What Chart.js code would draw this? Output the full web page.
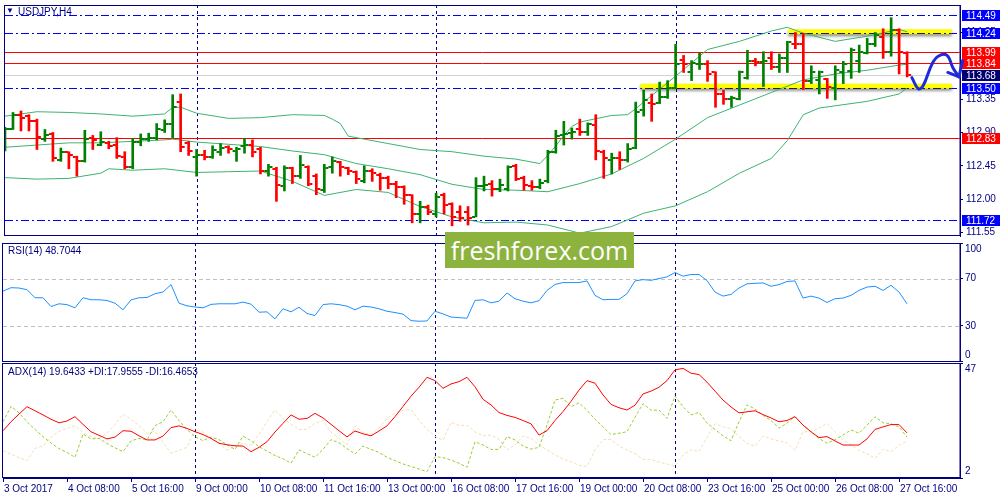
<!DOCTYPE html>
<html>
<head>
<meta charset="utf-8">
<title>USDJPY,H4</title>
<script src="https://cdn.jsdelivr.net/npm/chart.js@4.4.1/dist/chart.umd.min.js"></script>
<style>
  html, body { margin: 0; padding: 0; background: #fff; }
  body { position: relative; width: 1000px; height: 500px; overflow: hidden; font-family: 'Liberation Sans', Arial, sans-serif; }
  canvas { position: absolute; left: 0; }
  #priceCanvas { top: 0; }
  #rsiCanvas { top: 241px; }
  #adxCanvas { top: 362px; }
  .caption { position: absolute; font-size: 10px; color: #000080; white-space: nowrap; line-height: 12px; }
  #titleMark { left: 6px; top: 5px; font-size: 8px; }
  #title { left: 18px; top: 6px; }
  #rsiCaption { left: 8px; top: 245px; }
  #adxCaption { left: 8px; top: 366px; }
  #watermark { position: absolute; left: 445px; top: 232px; width: 189px; height: 36px; background: #8db33f; color: #fff;
               font-family: 'Open Sans', sans-serif; font-size: 25px; line-height: 36px; text-align: center; }
</style>
</head>
<body>
<canvas id="priceCanvas" width="1000" height="241"></canvas>
<canvas id="rsiCanvas" width="1000" height="121"></canvas>
<canvas id="adxCanvas" width="1000" height="138"></canvas>
<div class="caption" id="titleMark">▼</div>
<div class="caption" id="title">USDJPY,H4</div>
<div class="caption" id="rsiCaption">RSI(14) 48.7044</div>
<div class="caption" id="adxCaption">ADX(14) 19.6433 +DI:17.9555 -DI:16.4653</div>
<div id="watermark">freshforex.com</div>
<script>
// time axis: one label every 8 H4 bars
const timeLabels = ['3 Oct 2017', '4 Oct 08:00', '5 Oct 16:00', '9 Oct 00:00', '10 Oct 08:00', '11 Oct 16:00',
  '13 Oct 00:00', '16 Oct 08:00', '17 Oct 16:00', '19 Oct 00:00', '20 Oct 08:00', '23 Oct 16:00',
  '25 Oct 00:00', '26 Oct 08:00', '27 Oct 16:00'];
const barsPerLabel = 8;

// OHLC, one value per H4 bar
const opens = [112.75, 112.95, 113.14, 113.12, 113.06, 112.81, 112.88, 112.53, 112.64, 112.57,
  112.51, 112.83, 112.73, 112.76, 112.73, 112.57, 112.43, 112.77, 112.81, 112.82,
  112.93, 113.01, 113.31, 112.76, 112.57, 112.59, 112.57, 112.64, 112.70, 112.65,
  112.72, 112.73, 112.68, 112.38, 112.41, 112.18, 112.42, 112.31, 112.44, 112.31,
  112.12, 112.44, 112.50, 112.42, 112.36, 112.25, 112.38, 112.33, 112.29, 112.21,
  112.16, 112.05, 111.80, 111.90, 111.80, 112.05, 111.93, 111.82, 111.82, 111.76,
  112.18, 112.20, 112.14, 112.14, 112.45, 112.29, 112.18, 112.16, 112.25, 112.64,
  112.86, 112.89, 112.94, 112.90, 113.00, 112.64, 112.53, 112.55, 112.53, 112.69,
  113.21, 113.30, 113.30, 113.38, 113.50, 113.88, 113.72, 113.82, 113.83, 113.71,
  113.42, 113.35, 113.35, 113.63, 113.87, 113.85, 113.90, 113.79, 113.90, 114.10,
  114.09, 113.59, 113.61, 113.62, 113.50, 113.71, 113.73, 113.86, 113.97, 114.09,
  114.19, 113.98, 114.28, 113.97];
const highs = [112.97, 113.17, 113.19, 113.14, 113.08, 112.94, 112.90, 112.69, 112.64, 112.58,
  112.93, 112.86, 112.91, 112.78, 112.83, 112.64, 112.82, 112.88, 112.89, 113.02,
  113.07, 113.41, 113.42, 112.78, 112.67, 112.66, 112.72, 112.75, 112.72, 112.70,
  112.82, 112.80, 112.70, 112.47, 112.43, 112.45, 112.43, 112.59, 112.45, 112.34,
  112.47, 112.57, 112.51, 112.43, 112.38, 112.45, 112.41, 112.35, 112.31, 112.24,
  112.18, 112.06, 111.97, 111.92, 112.08, 112.08, 111.95, 111.91, 111.90, 112.29,
  112.31, 112.25, 112.27, 112.45, 112.47, 112.31, 112.25, 112.27, 112.66, 112.93,
  113.05, 112.96, 113.08, 113.03, 113.14, 112.66, 112.62, 112.64, 112.75, 113.31,
  113.47, 113.42, 113.58, 113.60, 114.09, 113.94, 113.87, 113.97, 113.87, 113.72,
  113.47, 113.39, 113.73, 114.01, 113.90, 113.99, 113.99, 113.96, 114.13, 114.25,
  114.24, 113.80, 113.73, 113.63, 113.80, 113.86, 114.04, 114.08, 114.17, 114.25,
  114.30, 114.45, 114.30, 113.99];
const lows = [112.65, 112.94, 112.92, 112.92, 112.67, 112.78, 112.51, 112.51, 112.41, 112.31,
  112.50, 112.67, 112.72, 112.68, 112.55, 112.41, 112.41, 112.72, 112.78, 112.80,
  112.90, 112.83, 112.64, 112.59, 112.31, 112.53, 112.55, 112.59, 112.62, 112.51,
  112.62, 112.57, 112.34, 112.31, 111.97, 112.11, 112.21, 112.28, 112.18, 112.06,
  112.09, 112.35, 112.31, 112.33, 112.21, 112.22, 112.24, 112.12, 112.14, 112.02,
  111.93, 111.68, 111.68, 111.79, 111.76, 111.80, 111.64, 111.70, 111.65, 111.76,
  112.11, 112.04, 112.10, 112.11, 112.25, 112.12, 112.12, 112.14, 112.22, 112.62,
  112.73, 112.81, 112.86, 112.86, 112.53, 112.28, 112.34, 112.40, 112.50, 112.68,
  113.12, 113.05, 113.29, 113.36, 113.49, 113.71, 113.60, 113.75, 113.59, 113.24,
  113.28, 113.24, 113.34, 113.62, 113.80, 113.52, 113.75, 113.71, 113.71, 114.03,
  113.48, 113.56, 113.42, 113.36, 113.34, 113.56, 113.63, 113.71, 113.96, 114.06,
  113.90, 113.93, 113.69, 113.65];
const closes = [112.94, 113.14, 113.10, 113.05, 112.84, 112.86, 112.55, 112.64, 112.59, 112.51,
  112.81, 112.80, 112.77, 112.72, 112.58, 112.44, 112.77, 112.81, 112.82, 112.95,
  113.01, 113.24, 112.70, 112.65, 112.60, 112.57, 112.66, 112.69, 112.67, 112.68,
  112.73, 112.64, 112.38, 112.43, 112.19, 112.42, 112.31, 112.46, 112.21, 112.14,
  112.42, 112.51, 112.43, 112.38, 112.27, 112.38, 112.35, 112.28, 112.20, 112.16,
  112.05, 111.80, 111.90, 111.82, 112.03, 111.92, 111.76, 111.74, 111.75, 112.18,
  112.19, 112.14, 112.19, 112.44, 112.27, 112.19, 112.17, 112.22, 112.64, 112.85,
  112.88, 112.91, 112.91, 113.01, 112.65, 112.55, 112.56, 112.53, 112.68, 113.18,
  113.34, 113.29, 113.38, 113.50, 113.83, 113.83, 113.84, 113.83, 113.69, 113.42,
  113.35, 113.37, 113.71, 113.86, 113.85, 113.87, 113.79, 113.90, 114.12, 114.09,
  113.60, 113.72, 113.71, 113.51, 113.75, 113.82, 114.01, 113.99, 114.10, 114.21,
  113.99, 114.28, 113.98, 113.68];

// Bollinger bands: [bar, price]
const bbUpper = [[0, 113.12], [4, 113.18], [8, 113.17], [12, 113.15], [16, 113.12], [20, 113.15], [21, 113.24],
  [22, 113.24], [24, 113.16], [28, 113.09], [32, 113.10], [36, 113.14], [40, 113.13], [41, 113.08], [42, 113.02],
  [43, 112.85], [44, 112.83], [48, 112.75], [52, 112.67], [56, 112.64], [60, 112.58], [64, 112.54], [67, 112.48],
  [68, 112.59], [69, 112.72], [70, 112.86], [71, 112.98], [72, 113.04], [76, 113.13], [78, 113.14], [79, 113.22],
  [80, 113.31], [84, 113.66], [88, 114.02], [92, 114.13], [96, 114.27], [98, 114.32], [100, 114.24], [104, 114.13],
  [108, 114.20], [112, 114.29], [113, 114.26]];
const bbMiddle = [[0, 112.70], [4, 112.73], [8, 112.76], [12, 112.76], [16, 112.78], [20, 112.80], [21, 112.81],
  [24, 112.77], [28, 112.74], [32, 112.71], [36, 112.65], [40, 112.60], [44, 112.48], [48, 112.41], [52, 112.33],
  [56, 112.20], [60, 112.13], [64, 112.12], [68, 112.10], [72, 112.21], [76, 112.34], [80, 112.55], [84, 112.81],
  [88, 113.10], [92, 113.27], [96, 113.44], [100, 113.61], [104, 113.69], [108, 113.74], [112, 113.81], [113, 113.82]];
const bbLower = [[0, 112.29], [4, 112.27], [8, 112.28], [12, 112.35], [13, 112.41], [16, 112.39], [20, 112.41],
  [24, 112.36], [28, 112.37], [32, 112.38], [36, 112.24], [40, 112.05], [44, 112.13], [48, 112.09], [52, 111.90],
  [56, 111.76], [60, 111.68], [64, 111.69], [68, 111.65], [72, 111.54], [76, 111.63], [80, 111.81], [84, 111.91],
  [88, 112.10], [92, 112.35], [96, 112.55], [98, 112.79], [100, 113.14], [102, 113.23], [104, 113.26],
  [108, 113.32], [112, 113.42], [113, 113.50]];

const rsi = [59.4, 62.3, 62, 60.6, 53.8, 53.8, 46.4, 48.7, 48, 45.3,
  53.8, 52.1, 52.1, 51.5, 49.2, 43.6, 52, 53.8, 54, 57.2,
  58.6, 64.9, 49.2, 47, 46, 45.3, 48.2, 48.7, 48.7, 48.7,
  50.1, 48.4, 41.6, 41.9, 36, 44.5, 41.9, 45.8, 40.5, 38.8,
  48, 48.7, 48, 46.7, 43.6, 46.7, 46, 44.5, 42.4, 41.3,
  40, 34.5, 34, 34.2, 42.4, 40.2, 37.5, 37, 36.5, 51.5,
  52.1, 49.5, 50.9, 57.8, 53, 50.9, 49.5, 51.3, 60, 65,
  66.6, 66.6, 66.6, 68, 55.8, 52.1, 52.4, 52.4, 57.2, 68,
  69.1, 68.5, 70, 71.4, 75.1, 72, 73.4, 73.4, 68.3, 58.6,
  55.2, 56.6, 62, 65.5, 66, 66.3, 63.5, 64.9, 67.5, 68,
  53.5, 55.2, 53.5, 49.8, 53, 53.5, 55.8, 60, 62.8, 63.5,
  60, 64.3, 58.6, 48.7];
const adx = [20.5, 24, 27, 29.9, 28.3, 26.7, 25, 23.6, 24.3, 26,
  23, 20.1, 18.7, 17.3, 18, 20.5, 20.3, 18.5, 16.9, 16.9,
  18.4, 21.7, 22.4, 21.4, 20.1, 19, 17.5, 15.6, 15, 14.6,
  14.5, 12.3, 14, 16.2, 20, 23.4, 26.7, 25, 25.3, 27.3,
  25.5, 23, 20.5, 18.1, 20.4, 19.3, 18.5, 20.4, 22.4, 26,
  30, 34, 37.5, 41.4, 40.1, 37.1, 38.8, 39.7, 41.4, 37.7,
  32.8, 30.6, 27.6, 26.5, 25.7, 24.5, 23.2, 18.8, 20.5, 24.5,
  28, 32, 36.4, 40.1, 39.1, 34.5, 30.8, 29.5, 28.6, 30.5,
  34.9, 36, 37.5, 40.1, 44.3, 44.9, 43, 42.5, 39.5, 36,
  32.5, 29.8, 27.5, 27.9, 28.3, 26.8, 25.5, 24, 24.5, 26,
  22.7, 20.1, 17.8, 18.2, 16.5, 14.9, 14.9, 14.9, 17.3, 21,
  22, 22.9, 22.9, 19.64];
const plusDI = [24, 30, 27.5, 24, 21, 18.2, 15.7, 13.5, 12, 10.1,
  19.2, 17.3, 17.5, 15.5, 13.8, 12.3, 16.5, 17.5, 16.9, 22.5,
  24, 28.6, 24.5, 21, 18.2, 16.6, 18, 17, 15, 13.2,
  18.4, 16.6, 14.3, 12.5, 10.8, 9.5, 7.8, 13, 11.5, 10.1,
  13.2, 17, 15.8, 13.5, 11.4, 14.5, 13.2, 12, 10.1, 8.8,
  7.5, 6.5, 5.5, 4.5, 10.3, 10, 9, 7.8, 6.2, 16.2,
  14.9, 13.2, 13.2, 18.2, 16.9, 14.5, 13.3, 14, 22.7, 32.5,
  33.2, 29.9, 31.4, 28.5, 25, 22, 19, 19.5, 20.1, 25.8,
  31.1, 28.5, 28.6, 25.3, 34.1, 29.9, 26.7, 27.7, 23.5, 21,
  18.5, 16.6, 24, 30.6, 29, 26.5, 24.5, 21.5, 23.5, 26,
  22.7, 20, 17.5, 15.6, 17, 18.8, 20.8, 19.5, 22.7, 26,
  23.6, 23.2, 22, 17.96];
const minusDI = [12.7, 11.3, 10, 8.8, 13.6, 14.5, 18, 20.3, 21.4, 22.5,
  19.8, 18.3, 17.5, 19.5, 23, 27, 25, 22.5, 19.5, 20.3,
  16, 11.7, 12.8, 14, 21, 20, 17.5, 15.5, 13, 14.5,
  15.5, 14.9, 19, 24, 28.6, 25.3, 23, 21, 21, 23.4,
  24.5, 20, 17.5, 15, 22.4, 19.8, 19, 21.5, 25.3, 27.5,
  28.6, 28.8, 24.5, 21, 18.3, 16.8, 23.8, 22.6, 22.6, 20,
  18.5, 18.8, 17.1, 13, 15, 18.4, 17.5, 15, 13, 11,
  9.5, 8.3, 7, 6.5, 13, 17, 17.1, 14.5, 13, 11.5,
  9.3, 9.2, 8.2, 7.5, 6.7, 11, 13, 12.3, 18, 23.2,
  22, 21.4, 18.2, 15.5, 14.5, 18.4, 17.3, 16.5, 15.8, 12.7,
  20.1, 20.1, 21.5, 23.4, 20, 17, 15, 12.8, 11.5, 9.7,
  13.2, 12.3, 14.8, 16.47];

// chart objects
const redLevels = [113.99, 113.84, 112.83];
const blueLevels = [114.49, 114.24, 113.50, 111.72];
const bidPrice = 113.68;
const zoneLevels = [114.26, 113.525];
const zoneFrom = [98.1, 79.6];
const zoneTo = [118.6, 118.6];
const separators = [24, 54, 84];
const arrowPath = [[113.6, 113.64], [114.4, 113.49], [115.0, 113.53], [116.1, 113.82], [116.9, 113.93],
  [118.0, 113.94], [118.75, 113.77], [119.5, 113.65]];
const arrowHead = [[118.1, 113.71], [119.5, 113.65], [119.95, 113.87]];

const priceTicks = [111.55, 112.00, 112.45, 112.90, 113.35, 113.80, 114.25];
const rsiTicks = [0, 30, 70, 100];
const rsiLevels = [30, 70];
const adxTicks = [2, 47];

// look
const NAVY = '#000080';
const UP = '#008000', DOWN = '#ff0000';
const BAND = '#3cb371';
const ARROW = '#1f2bd6';
const FONT = { family: "'Liberation Sans', Arial, sans-serif", size: 10 };
const X_MAX = 119.625; // visible bar slots, including the right shift

function tickImage(color, side) {
  const c = document.createElement('canvas');
  c.width = 10; c.height = 2;
  const g = c.getContext('2d');
  g.fillStyle = color;
  g.fillRect(side === 'left' ? 1 : 6, 0, 3, 2);
  return c;
}
const ticksImg = {
  upL: tickImage(UP, 'left'), upR: tickImage(UP, 'right'),
  dnL: tickImage(DOWN, 'left'), dnR: tickImage(DOWN, 'right')
};
const isUp = i => closes[i] >= opens[i];
const pts = arr => arr.map(([x, y]) => ({ x, y }));
const series = arr => arr.map((y, x) => ({ x, y }));

function xAxis(show) {
  return {
    type: 'linear', min: 0, max: X_MAX, offset: false, display: show,
    grid: { drawOnChartArea: false, drawTicks: true, tickLength: 4, color: NAVY },
    border: { display: true, color: NAVY },
    ticks: {
      autoSkip: false, maxRotation: 0, align: 'start', padding: 1, labelOffset: 1,
      color: NAVY, font: FONT, callback: (v, k) => timeLabels[k]
    },
    afterBuildTicks: s => { s.ticks = timeLabels.map((_, k) => ({ value: k * barsPerLabel })); },
    afterFit: s => {
      s.height = show ? 22 : 0;
      s.paddingLeft = 0; s.paddingRight = 0;
    }
  };
}

function yAxis(min, max, tickValues, showLabels) {
  return {
    type: 'linear', position: 'right', min, max,
    grid: { drawOnChartArea: false, drawTicks: true, tickLength: 3, color: NAVY },
    border: { display: true, color: NAVY },
    ticks: { display: showLabels, color: NAVY, font: FONT, padding: 3, callback: v => Number(v).toFixed(2) },
    afterBuildTicks: s => { s.ticks = tickValues.map(v => ({ value: v })); },
    afterFit: s => { s.width = 40; s.paddingTop = 0; s.paddingBottom = 0; }
  };
}

function baseOptions(padding, scales) {
  return {
    responsive: false, animation: false, events: [],
    layout: { padding },
    plugins: { legend: { display: false }, tooltip: { enabled: false } },
    elements: { point: { radius: 0 } },
    scales
  };
}

// frame + vertical separators, same for every pane
const panelFrame = {
  id: 'panelFrame',
  beforeDatasetsDraw(chart) {
    const { ctx, chartArea: a, scales: { x } } = chart;
    ctx.save();
    ctx.strokeStyle = NAVY;
    ctx.lineWidth = 1;
    ctx.setLineDash([3, 3]);
    separators.forEach(i => {
      const px = Math.round(x.getPixelForValue(i)) + 0.5;
      ctx.beginPath(); ctx.moveTo(px, a.top); ctx.lineTo(px, a.bottom); ctx.stroke();
    });
    ctx.setLineDash([]);
    ctx.strokeRect(a.left - 0.5, Math.round(a.top) + 0.5, a.right - a.left + 0.5, Math.round(a.bottom - a.top) - 1);
    ctx.restore();
  }
};

// horizontal lines, yellow zones and price tags on the price pane
const priceObjects = {
  id: 'priceObjects',
  beforeDatasetsDraw(chart) {
    const { ctx, chartArea: a, scales: { x, y } } = chart;
    const hline = (v, color, dash) => {
      const py = Math.round(y.getPixelForValue(v)) + 0.5;
      ctx.strokeStyle = color;
      ctx.setLineDash(dash);
      ctx.beginPath(); ctx.moveTo(a.left, py); ctx.lineTo(a.right, py); ctx.stroke();
    };
    ctx.save();
    ctx.lineWidth = 1;
    hline(bidPrice, '#d3d3d3', []);
    redLevels.forEach(v => hline(v, '#ff0000', []));
    blueLevels.forEach(v => hline(v, '#0000ff', [8, 3, 2, 3]));

    zoneLevels.forEach((v, k) => {
      const py = y.getPixelForValue(v);
      const x0 = x.getPixelForValue(zoneFrom[k]);
      const x1 = x.getPixelForValue(zoneTo[k]);
      ctx.save();
      ctx.shadowColor = 'rgba(0,0,0,0.45)';
      ctx.shadowBlur = 3;
      ctx.shadowOffsetY = 2;
      ctx.fillStyle = '#ffff00';
      ctx.fillRect(x0, py - 2.5, x1 - x0, 5);
      ctx.restore();
      ctx.save();
      ctx.beginPath(); ctx.rect(x0, py - 3, x1 - x0, 6); ctx.clip();
      blueLevels.forEach(b => hline(b, '#202030', [8, 3, 2, 3]));
      ctx.restore();
    });

    // value tags on the price scale
    const tags = [...blueLevels.map(v => [v, '#0000ff']), ...redLevels.map(v => [v, '#ff0000']), [bidPrice, '#000070']]
      .sort((p, q) => q[0] - p[0]);
    ctx.setLineDash([]);
    ctx.font = `${FONT.size}px ${FONT.family}`;
    ctx.textBaseline = 'middle';
    tags.forEach(([v, c]) => {
      const py = Math.round(y.getPixelForValue(v));
      ctx.fillStyle = c;
      ctx.fillRect(a.right + 2, py - 5, 38, 11);
      ctx.fillStyle = '#ffffff';
      ctx.fillText(v.toFixed(2), a.right + 6, py + 1);
    });
    ctx.restore();
  }
};

function levelLines(values) {
  return {
    id: 'levelLines',
    beforeDatasetsDraw(chart) {
      const { ctx, chartArea: a, scales: { y } } = chart;
      ctx.save();
      ctx.strokeStyle = '#c0c0c0';
      ctx.lineWidth = 1;
      ctx.setLineDash([4, 3]);
      values.forEach(v => {
        const py = Math.round(y.getPixelForValue(v)) + 0.5;
        ctx.beginPath(); ctx.moveTo(a.left, py); ctx.lineTo(a.right, py); ctx.stroke();
      });
      ctx.restore();
    }
  };
}

// indicator scale labels, kept inside the pane like the terminal does
function sideLabels(values) {
  return {
    id: 'sideLabels',
    afterDraw(chart) {
      const { ctx, chartArea: a, scales: { y } } = chart;
      ctx.save();
      ctx.font = `${FONT.size}px ${FONT.family}`;
      ctx.fillStyle = NAVY;
      ctx.textBaseline = 'middle';
      values.forEach(v => {
        const py = Math.min(Math.max(y.getPixelForValue(v), a.top + 6.5), a.bottom - 6.5);
        ctx.fillText(String(v), a.right + 5, py);
      });
      ctx.restore();
    }
  };
}

const bars = opens.map((_, i) => i);

new Chart(document.getElementById('priceCanvas'), {
  type: 'line',
  data: {
    datasets: [
      { type: 'line', data: pts(arrowPath), borderColor: ARROW, borderWidth: 3, tension: 0.4,
        borderCapStyle: 'round', borderJoinStyle: 'round', pointRadius: 0, clip: false, order: 0 },
      { type: 'line', data: pts(arrowHead), borderColor: ARROW, borderWidth: 3, tension: 0,
        borderCapStyle: 'round', borderJoinStyle: 'round', pointRadius: 0, clip: false, order: 0 },
      { type: 'scatter', data: bars.map(i => ({ x: i, y: opens[i] })), pointRadius: 2,
        pointStyle: c => isUp(c.dataIndex) ? ticksImg.upL : ticksImg.dnL, order: 1 },
      { type: 'scatter', data: bars.map(i => ({ x: i, y: closes[i] })), pointRadius: 2,
        pointStyle: c => isUp(c.dataIndex) ? ticksImg.upR : ticksImg.dnR, order: 1 },
      { type: 'bar', data: bars.map(i => ({ x: i, y: [lows[i], highs[i]] })), barThickness: 2, grouped: false,
        borderWidth: 0, backgroundColor: c => isUp(c.dataIndex) ? UP : DOWN, order: 2 },
      { type: 'line', data: pts(bbUpper), borderColor: BAND, borderWidth: 1, pointRadius: 0, order: 3 },
      { type: 'line', data: pts(bbMiddle), borderColor: BAND, borderWidth: 1, pointRadius: 0, order: 3 },
      { type: 'line', data: pts(bbLower), borderColor: BAND, borderWidth: 1, pointRadius: 0, order: 3 }
    ]
  },
  options: baseOptions({ left: 3, top: 2, bottom: 1, right: 0 }, {
    x: xAxis(false),
    y: yAxis(111.502, 114.621, priceTicks, true)
  }),
  plugins: [panelFrame, priceObjects]
});

new Chart(document.getElementById('rsiCanvas'), {
  type: 'line',
  data: {
    datasets: [
      { data: series(rsi), borderColor: '#1e90ff', borderWidth: 1, pointRadius: 0 }
    ]
  },
  options: baseOptions({ left: 3, top: 2, bottom: 0.5, right: 0 }, {
    x: xAxis(false),
    y: yAxis(0, 100, rsiTicks, false)
  }),
  plugins: [panelFrame, levelLines(rsiLevels), sideLabels(rsiTicks)]
});

new Chart(document.getElementById('adxCanvas'), {
  type: 'line',
  data: {
    datasets: [
      { data: series(adx), borderColor: '#ff0000', borderWidth: 1, pointRadius: 0 },
      { data: series(plusDI), borderColor: '#9acd32', borderWidth: 1, borderDash: [3, 2], pointRadius: 0 },
      { data: series(minusDI), borderColor: '#f5deb3', borderWidth: 1, borderDash: [3, 2], pointRadius: 0 }
    ]
  },
  options: baseOptions({ left: 3, top: 1, bottom: 0, right: 0 }, {
    x: xAxis(true),
    y: yAxis(2, 47, adxTicks, false)
  }),
  plugins: [panelFrame, sideLabels(adxTicks)]
});
</script>
</body>
</html>
